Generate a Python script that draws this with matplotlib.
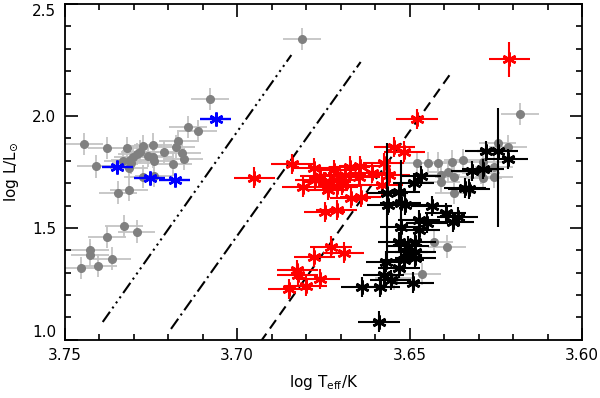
import numpy as np
import matplotlib
matplotlib.use('Agg')
import matplotlib.pyplot as plt
import matplotlib.transforms as mtransforms
from matplotlib.ticker import MultipleLocator, FormatStrFormatter, FuncFormatter

plt.rcParams['xtick.direction'] = 'in'
plt.rcParams['ytick.direction'] = 'in'
plt.rcParams['font.family'] = 'DejaVu Sans'

# grey circles, cool side (left)
grey_l_t = [3.7444, 3.7410, 3.7377, 3.7347, 3.7313, 3.7320, 3.7274, 3.7245, 3.7211, 3.7172,
            3.7177, 3.7160, 3.7153, 3.7185, 3.7144, 3.7114, 3.7078, 3.6813, 3.7312, 3.7301,
            3.7291, 3.7282, 3.7258, 3.7243, 3.7241, 3.7315, 3.7309, 3.7272, 3.7241, 3.7328,
            3.7292, 3.7378, 3.7426, 3.7428, 3.7363, 3.7403, 3.7453, 3.7330]
grey_l_l = [1.874, 1.775, 1.858, 1.658, 1.668, 1.858, 1.867, 1.872, 1.839, 1.887,
            1.863, 1.835, 1.809, 1.784, 1.952, 1.932, 2.076, 2.344, 1.805, 1.818,
            1.829, 1.841, 1.821, 1.818, 1.798, 1.767, 1.789, 1.729, 1.732, 1.509,
            1.484, 1.460, 1.402, 1.381, 1.363, 1.332, 1.320, 1.800]

# grey circles, right group
grey_r_t = [3.6179, 3.6245, 3.6214, 3.6478, 3.6419, 3.6376, 3.6345, 3.6410, 3.6390, 3.6371,
            3.6410, 3.6371, 3.6286, 3.6255, 3.6255, 3.6286, 3.6429, 3.6392, 3.6463, 3.6448,
            3.6294, 3.6546]
grey_r_l = [2.008, 1.881, 1.863, 1.789, 1.789, 1.796, 1.804, 1.737, 1.751, 1.729,
            1.707, 1.658, 1.796, 1.774, 1.729, 1.722, 1.439, 1.417, 1.295, 1.790,
            1.744, 1.275]

# red asterisks
red_t = [3.6950, 3.6841, 3.6776, 3.6810, 3.6747, 3.6718, 3.6710, 3.6710, 3.6674, 3.6686,
         3.6645, 3.6647, 3.6608, 3.6575, 3.6544, 3.6515, 3.6560, 3.6579, 3.6671, 3.6642,
         3.6746, 3.6712, 3.6730, 3.6696, 3.6728, 3.6691, 3.6776, 3.6826, 3.6825, 3.6761,
         3.6800, 3.6851, 3.6478, 3.6211, 3.6759, 3.6738, 3.6773]
red_l = [1.725, 1.784, 1.767, 1.684, 1.704, 1.759, 1.714, 1.684, 1.774, 1.737,
         1.777, 1.729, 1.744, 1.789, 1.863, 1.841, 1.737, 1.692, 1.633, 1.640,
         1.570, 1.580, 1.707, 1.692, 1.417, 1.390, 1.372, 1.313, 1.290, 1.272,
         1.241, 1.226, 1.987, 2.253, 1.732, 1.670, 1.714]
red_dl = [0.045] * 33 + [0.078] + [0.045] * 3

# black asterisks
black_t = [3.6531, 3.6563, 3.6512, 3.6488, 3.6436, 3.6395, 3.6361, 3.6373, 3.6473, 3.6449,
           3.6473, 3.6526, 3.6531, 3.6483, 3.6483, 3.6507, 3.6483, 3.6517, 3.6531, 3.6567,
           3.6575, 3.6555, 3.6587, 3.6638, 3.6489, 3.6589, 3.6339, 3.6328, 3.6279, 3.6216,
           3.6320, 3.6287, 3.6468, 3.6504]
black_l = [1.662, 1.603, 1.603, 1.700, 1.598, 1.568, 1.550, 1.525, 1.536, 1.521,
           1.491, 1.503, 1.439, 1.439, 1.394, 1.394, 1.365, 1.357, 1.320, 1.350,
           1.290, 1.268, 1.238, 1.235, 1.256, 1.082, 1.677, 1.673, 1.845, 1.807,
           1.754, 1.762, 1.732, 1.420]
# black asterisks with large, asymmetric luminosity errors
black_big_t = [3.6565, 3.6526, 3.6245]
black_big_l = [1.655, 1.610, 1.845]
black_big_lo = [0.329, 0.262, 0.341]
black_big_hi = [0.224, 0.194, 0.191]

# blue asterisks
blue_t = [3.7348, 3.7253, 3.7181, 3.7062]
blue_l = [1.774, 1.725, 1.714, 1.987]

# reference lines (end points)
line_t = [[3.7390, 3.6843], [3.7192, 3.6642], [3.6933, 3.6378]]
line_l = [[1.080, 2.272], [1.049, 2.241], [0.990, 2.196]]
line_dash = [(6, 2, 1, 2, 1, 2, 1, 2), (6, 2, 1, 2), (5, 3)]

ylim = (1.0, 2.5)
star = (6, 2, 0)

fig = plt.figure(figsize=(6, 3.98), dpi=100)
ax = fig.add_axes([0.108, 0.146, 0.862, 0.844])

for t, l in ((grey_l_t, grey_l_l), (grey_r_t, grey_r_l)):
    ax.errorbar(t, l, xerr=0.0055, yerr=0.05, fmt='o', color='#808080', ms=5.5,
                ecolor='#c4c4c4', elinewidth=1.3, capsize=0, zorder=2)

ax.errorbar(red_t, red_l, xerr=0.006, yerr=red_dl, fmt='none', ecolor='red',
            elinewidth=1.5, capsize=0, zorder=3)
ax.plot(red_t, red_l, ls='none', marker=star, ms=10, mew=1.8, color='red', zorder=3)

ax.errorbar(black_t, black_l, xerr=0.006, yerr=0.045, fmt='none', ecolor='black',
            elinewidth=1.5, capsize=0, zorder=4)
ax.errorbar(black_big_t, black_big_l, xerr=0.006, yerr=[black_big_lo, black_big_hi],
            fmt='none', ecolor='black', elinewidth=1.5, capsize=0, zorder=4)
ax.plot(black_t + black_big_t, black_l + black_big_l, ls='none', marker=star, ms=10,
        mew=1.9, color='black', zorder=4)

ax.errorbar(blue_t, blue_l, xerr=0.0045, yerr=0.01, fmt='none', ecolor='blue',
            elinewidth=1.7, capsize=0, zorder=5)
ax.plot(blue_t, blue_l, ls='none', marker=star, ms=10, mew=1.8, color='blue', zorder=5)

for t, l, d in zip(line_t, line_l, line_dash):
    ax.plot(t, l, color='black', lw=1.5, dashes=d, zorder=1)

ax.set_xlim(3.75, 3.60)
ax.set_ylim(*ylim)
ax.xaxis.set_major_locator(MultipleLocator(0.05))
ax.xaxis.set_minor_locator(MultipleLocator(0.01))
ax.yaxis.set_major_locator(MultipleLocator(0.5))
ax.yaxis.set_minor_locator(MultipleLocator(0.1))
ax.xaxis.set_major_formatter(FormatStrFormatter('%.2f'))
# end labels of y are drawn by hand below, shifted inside the frame
ax.yaxis.set_major_formatter(FuncFormatter(
    lambda v, p: '' if min(abs(v - ylim[0]), abs(v - ylim[1])) < 1e-6 else '%.1f' % v))
ax.tick_params(which='both', top=True, right=True, labelsize=11, width=1.2)
ax.tick_params(which='major', length=9, pad=6)
ax.tick_params(which='minor', length=4.5)
for s in ax.spines.values():
    s.set_linewidth(1.3)

off = mtransforms.ScaledTranslation(-6 / 72, 0, fig.dpi_scale_trans)
tr = ax.get_yaxis_transform() + off
ax.text(0, ylim[0], '%.1f' % ylim[0], transform=tr, ha='right', va='bottom', fontsize=11)
ax.text(0, ylim[1], '%.1f' % ylim[1], transform=tr, ha='right', va='top', fontsize=11)

ax.set_xlabel(r'log T$_{\rm eff}$/K', fontsize=11, labelpad=7)
ax.set_ylabel(r'log L/L$_{\odot}$', fontsize=11, labelpad=8)

fig.savefig('out.png', dpi=100)
